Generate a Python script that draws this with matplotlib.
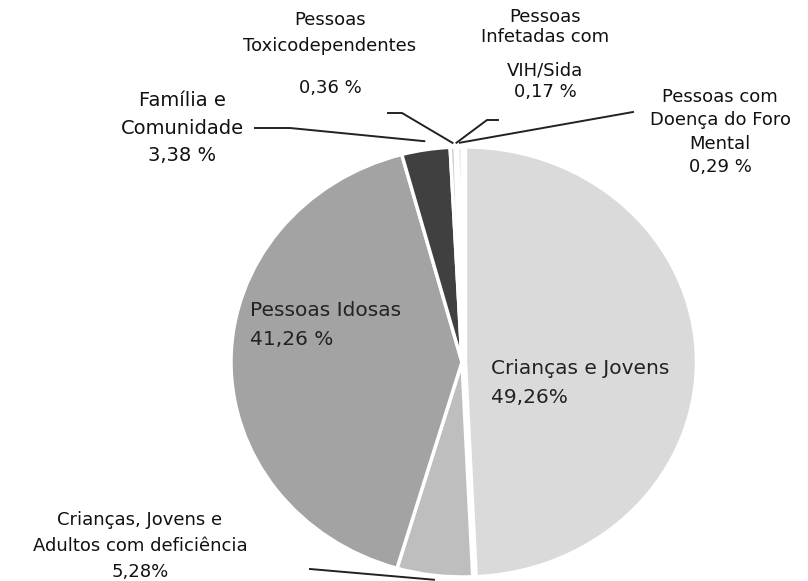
import matplotlib.pyplot as plt
import numpy as np

plt.rcParams['font.family'] = ['DejaVu Sans']

# slices, clockwise from the top
labels = ['Crianças e Jovens', 'Crianças, Jovens e Adultos com deficiência',
          'Pessoas Idosas', 'Família e Comunidade', 'Pessoas Toxicodependentes',
          'Pessoas Infetadas com VIH/Sida', 'Pessoas com Doença do Foro Mental']
values = [49.26, 5.28, 41.26, 3.38, 0.36, 0.17, 0.29]
pct_text = ['49,26%', '5,28%', '41,26 %', '3,38 %', '0,36 %', '0,17 %', '0,29 %']
colors = ['#dadada', '#bebebe', '#a3a3a3', '#404040', '#cfcfcf', '#e0e0e0', '#c8c8c8']

W, H = 808, 581
fig = plt.figure(figsize=(W / 100, H / 100), dpi=100)

# pie box in pixels: centre (462, 362), radii 231 x 215
cx, cy, rx, ry = 462, 362, 231, 215
ax = fig.add_axes([(cx - rx) / W, 1 - (cy + ry) / H, 2 * rx / W, 2 * ry / H])

explode = [0.015, 0, 0, 0, 0, 0, 0]
wedges, _ = ax.pie(values, colors=colors, startangle=90, counterclock=False,
                   explode=explode,
                   wedgeprops=dict(edgecolor='white', linewidth=2.5))
for w in wedges:
    w.set_clip_on(False)
ax.set_aspect('auto')
ax.set_xlim(-1, 1)
ax.set_ylim(-1, 1)
ax.axis('off')


def fig_xy(x, y):
    return x / W, 1 - y / H


def edge_pt(i, r=1.0):
    w = wedges[i]
    a = np.deg2rad((w.theta1 + w.theta2) / 2)
    return r * np.cos(a), r * np.sin(a)


def put(x, y, s, size, ls=1.15, ha='center', color='#111111'):
    fig.text(*fig_xy(x, y), s, fontsize=size, color=color, ha=ha,
             va='center', linespacing=ls)


# inside labels
put(250, 325, labels[2] + '\n' + pct_text[2], 14.5, ls=1.65, ha='left', color='#222222')
put(491, 383, labels[0] + '\n' + pct_text[0], 14.5, ls=1.65, ha='left', color='#222222')

fs = 13
# outside labels
put(182, 128, 'Família e\nComunidade\n' + pct_text[3], 14, ls=1.55)
put(330, 33, 'Pessoas\nToxicodependentes', fs, ls=1.55)
put(330, 88, pct_text[4], fs)
put(545, 27, 'Pessoas\nInfetadas com', fs, ls=1.2)
put(545, 81, 'VIH/Sida\n' + pct_text[5], fs, ls=1.25)
put(720, 132, 'Pessoas com\nDoença do Foro\nMental\n' + pct_text[6], fs, ls=1.4)
put(140, 546, 'Crianças, Jovens e\nAdultos com deficiência\n' + pct_text[1], fs, ls=1.55)

# leader lines: (line start points in px, wedge index, radius)
leaders = [
    ([(255, 128), (290, 128)], 3, 1.04),
    ([(388, 113), (402, 113)], 4, 1.02),
    ([(498, 120), (487, 120)], 5, 1.02),
    ([(633, 112)], 6, 1.02),
    ([(310, 569)], 1, 1.02),
]
for line, idx, r in leaders:
    ex, ey = edge_pt(idx, r)
    xs = [p[0] for p in line] + [cx + ex * rx]
    ys = [p[1] for p in line] + [cy - ey * ry]
    fig.add_artist(plt.Line2D([x / W for x in xs], [1 - y / H for y in ys],
                              color='#222222', linewidth=1.4))

fig.savefig('out.png', dpi=100, facecolor='white')
